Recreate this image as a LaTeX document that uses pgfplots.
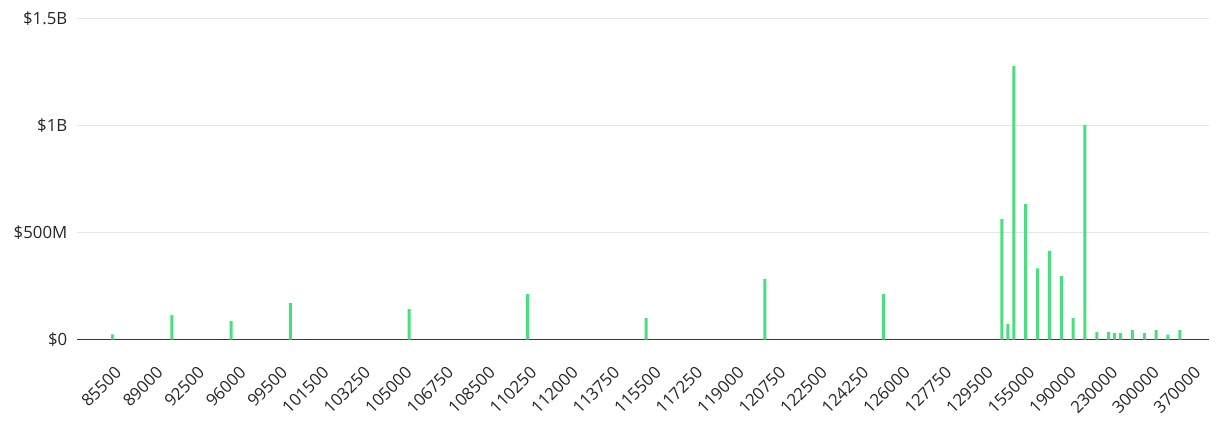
\documentclass[border=0pt]{standalone}
\usepackage{fontspec}
\setmainfont{Open Sans}
\usepackage{pgfplots}
\pgfplotsset{compat=1.18}
\definecolor{bargreen}{HTML}{4ADE80}
\definecolor{txt}{HTML}{262626}
\definecolor{gridc}{HTML}{E5E5E5}
\definecolor{axc}{HTML}{3A3A3A}
\begin{document}
\begin{tikzpicture}[x=1pt,y=1pt]
\useasboundingbox (0,0) rectangle (1227,428);
\begin{axis}[
 at={(77pt,88.3pt)}, anchor=south west,
 scale only axis, width=1132.5pt, height=321.4pt,
 xmin=0, xmax=191, ymin=0, ymax=1500,
 axis x line=bottom, axis y line=left,
 x axis line style={draw=axc, line width=1.2pt, -},
 y axis line style={draw=none},
 ytick={0,500,1000,1500},
 yticklabels={\$0,\$500M,\$1B,\$1.5B},
 ymajorgrids, grid style={gridc, line width=1pt},
 major tick length=0pt,
 xtick={6,13,...,188},
 xticklabels={85500,89000,92500,96000,99500,101500,103250,105000,106750,108500,110250,112000,113750,115500,117250,119000,120750,122500,124250,126000,127750,129500,155000,190000,230000,300000,370000},
 tick label style={font=\fontsize{16.8}{17}\selectfont, text=txt, inner sep=0pt},
 yticklabel style={anchor=east, xshift=-9.5pt},
 xticklabel style={xshift=5.8pt, yshift=-29.8pt, rotate=45, anchor=east},
 ybar, bar width=3pt,
]
\addplot[fill=bargreen, draw=none] table {
x y
6 25
16 115
26 87
36 171
56 143
76 213
96 101
116 283
136 213
156 563
157 74
158 1277
160 633
162 333
164 415
166 297
168 101
170 1003
172 37
174 37
175 31
176 31
178 45
180 31
182 45
184 24
186 45
};
\end{axis}
\end{tikzpicture}
\end{document}
